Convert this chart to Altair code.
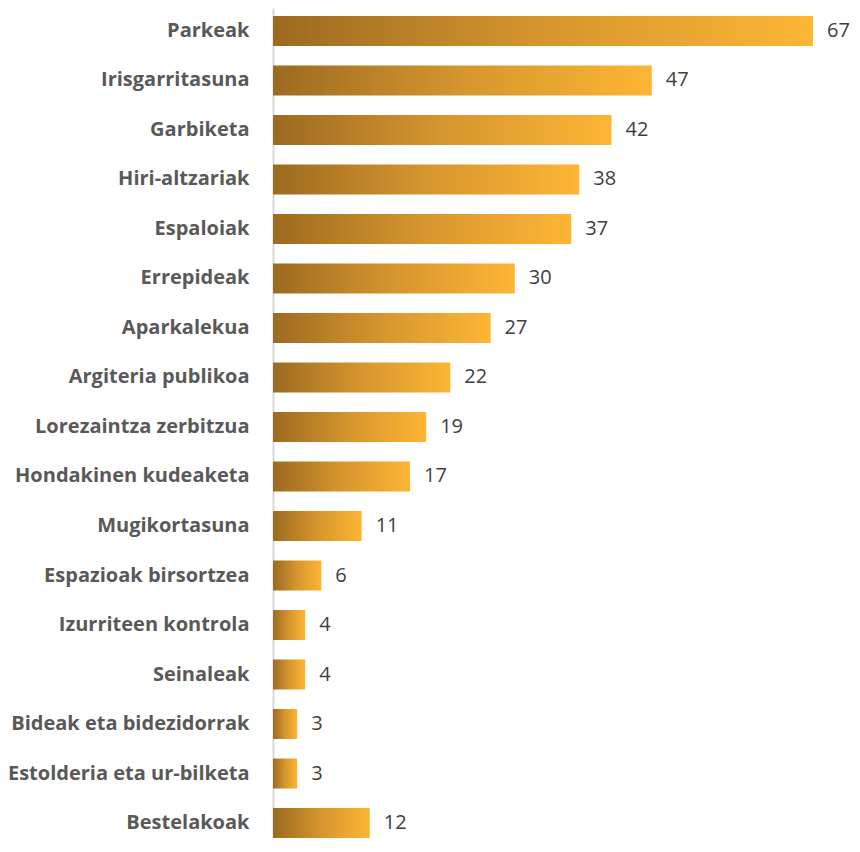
import altair as alt
import pandas as pd

categories = [
    "Parkeak", "Irisgarritasuna", "Garbiketa", "Hiri-altzariak", "Espaloiak",
    "Errepideak", "Aparkalekua", "Argiteria publikoa", "Lorezaintza zerbitzua",
    "Hondakinen kudeaketa", "Mugikortasuna", "Espazioak birsortzea",
    "Izurriteen kontrola", "Seinaleak", "Bideak eta bidezidorrak",
    "Estolderia eta ur-bilketa", "Bestelakoak",
]
values = [67, 47, 42, 38, 37, 30, 27, 22, 19, 17, 11, 6, 4, 4, 3, 3, 12]

df = pd.DataFrame({"cat": categories, "val": values})

grad = alt.Gradient(
    gradient="linear",
    stops=[
        alt.GradientStop(color="#9C6A20", offset=0),
        alt.GradientStop(color="#D6962E", offset=0.5),
        alt.GradientStop(color="#FDB534", offset=1),
    ],
    x1=0, x2=1, y1=0, y2=0,
)

y_enc = alt.Y(
    "cat:N", sort=categories, title=None,
    scale=alt.Scale(paddingInner=0.394, paddingOuter=0.0808, align=1),
    axis=alt.Axis(
        labelFont="Open Sans", labelFontWeight="bold", labelFontSize=20,
        labelColor="#595959", labelPadding=24, ticks=False,
        domainColor="#D9D9D9", domainWidth=2, labelLimit=300,
    ),
)
x_enc = alt.X("val:Q", title=None,
              scale=alt.Scale(domain=[0, 67], nice=False),
              axis=None)

bars = alt.Chart(df).mark_bar(color=grad).encode(x=x_enc, y=y_enc)
text = alt.Chart(df).mark_text(
    align="left", baseline="middle", dx=14, font="Open Sans",
    fontSize=20, color="#404040",
).encode(x=x_enc, y=y_enc, text="val:Q")

chart = (bars + text).properties(
    width=540, height=830,
    autosize=alt.AutoSizeParams(type="none"),
    padding={"left": 265, "top": 0, "right": 39, "bottom": 0},
).configure_view(stroke=None)

chart.save("out.html", embed_options={"renderer": "svg", "actions": False})
